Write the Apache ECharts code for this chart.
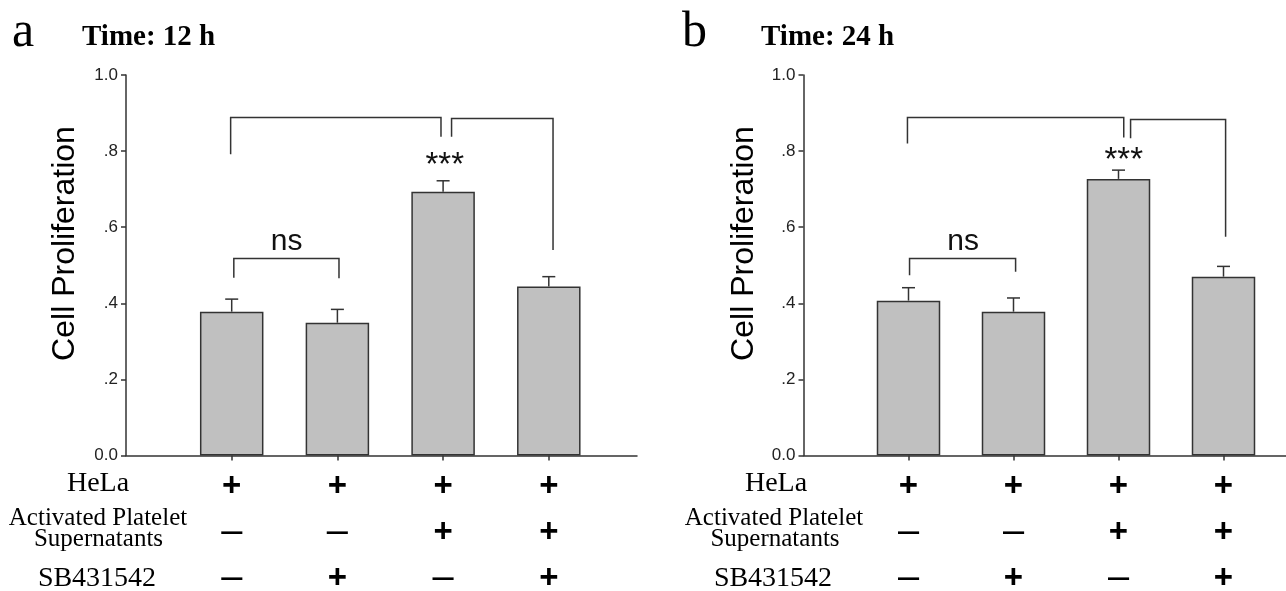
<!DOCTYPE html>
<html>
<head>
<meta charset="utf-8">
<title>Cell Proliferation</title>
<script src="https://cdn.jsdelivr.net/npm/echarts@6/dist/echarts.min.js"></script>
<style>
    html, body { margin: 0; padding: 0; background: #fff; }
    #main { width: 1286px; height: 591px; }
</style>
</head>
<body>
<div id="main"></div>
<script>
// four treatment groups, drawn at x = 1..4
var groupPos = [1, 2, 3, 4];
var helaRow = ['+', '+', '+', '+'];
var apsRow = ['–', '–', '+', '+'];
var sbRow = ['–', '+', '–', '+'];

// Time: 12 h
var mean12 = [0.378, 0.349, 0.693, 0.444];
var sem12 = [0.033, 0.035, 0.029, 0.026];
// Time: 24 h
var mean24 = [0.407, 0.378, 0.727, 0.470];
var sem24 = [0.034, 0.036, 0.023, 0.027];

// brackets: [x from, x to, top, left leg end, right leg end]
var brackets12 = [[0.99, 2.98, 0.888, 0.792, 0.838], [3.08, 4.04, 0.886, 0.838, 0.540], [1.02, 2.015, 0.518, 0.467, 0.466]];
var brackets24 = [[0.99, 3.05, 0.888, 0.820, 0.836], [3.115, 4.02, 0.883, 0.834, 0.575], [1.01, 2.02, 0.518, 0.474, 0.483]];
// significance marks: [x, y, text]
var marks12 = [[1.52, 0.562, 'ns'], [3.016, 0.760, '***']];
var marks24 = [[1.52, 0.561, 'ns'], [3.05, 0.775, '***']];

var SANS = '"Liberation Sans", Arial, sans-serif';
var SERIF = '"Liberation Serif", "Times New Roman", serif';
var INK = '#333';

var myChart = echarts.init(document.getElementById('main'));

function sign(c) {
    return c === '+' ? '{p|+}' : '{m|–}';
}

function xAxisFor(gi, max) {
    return {
        type: 'value',
        gridIndex: gi,
        min: 0,
        max: max,
        axisLine: { lineStyle: { color: INK, width: 1.5 } },
        axisTick: { show: true, customValues: groupPos, length: 5, lineStyle: { color: INK, width: 1.5 } },
        axisLabel: {
            customValues: groupPos,
            margin: 8,
            formatter: function (v) {
                var i = groupPos.indexOf(v);
                return sign(helaRow[i]) + '\n' + sign(apsRow[i]) + '\n' + sign(sbRow[i]);
            },
            rich: {
                p: { fontFamily: SANS, fontWeight: 'bold', fontSize: 33, color: '#000', lineHeight: 46 },
                m: { fontFamily: SANS, fontWeight: 'normal', fontSize: 38, color: '#000', lineHeight: 46 }
            }
        },
        splitLine: { show: false }
    };
}

function yAxisFor(gi) {
    return {
        type: 'value',
        gridIndex: gi,
        min: 0,
        max: 1,
        interval: 0.2,
        axisLine: { show: true, lineStyle: { color: INK, width: 1.5 } },
        axisTick: { show: true, length: 5, lineStyle: { color: INK, width: 1.5 } },
        axisLabel: {
            fontFamily: SANS,
            fontSize: 17,
            color: '#222',
            margin: 8,
            formatter: function (v) {
                if (v === 0) return '0.0';
                if (v === 1) return '1.0';
                return '.' + Math.round(v * 10);
            }
        },
        splitLine: { show: false }
    };
}

function panelSeries(gi, mean, sem, brackets, marks) {
    return [
        {
            type: 'bar',
            xAxisIndex: gi,
            yAxisIndex: gi,
            barWidth: 63.5,
            itemStyle: { color: '#c0c0c0', borderColor: INK, borderWidth: 1.5 },
            data: groupPos.map(function (x, k) { return [x, mean[k]]; })
        },
        {
            // error bars (mean + SEM)
            type: 'custom',
            xAxisIndex: gi,
            yAxisIndex: gi,
            z: 3,
            data: groupPos.map(function (x, k) { return [x, mean[k], sem[k]]; }),
            renderItem: function (params, api) {
                var p0 = api.coord([api.value(0), api.value(1)]);
                var p1 = api.coord([api.value(0), api.value(1) + api.value(2)]);
                var st = { stroke: INK, lineWidth: 1.5 };
                return {
                    type: 'group',
                    children: [
                        { type: 'line', shape: { x1: p0[0], y1: p0[1], x2: p1[0], y2: p1[1] }, style: st },
                        { type: 'line', shape: { x1: p1[0] - 6.5, y1: p1[1], x2: p1[0] + 6.5, y2: p1[1] }, style: st }
                    ]
                };
            }
        },
        {
            type: 'custom',
            xAxisIndex: gi,
            yAxisIndex: gi,
            z: 3,
            data: brackets,
            renderItem: function (params, api) {
                var x1 = api.value(0), x2 = api.value(1), top = api.value(2);
                var pts = [
                    api.coord([x1, api.value(3)]),
                    api.coord([x1, top]),
                    api.coord([x2, top]),
                    api.coord([x2, api.value(4)])
                ];
                return { type: 'polyline', shape: { points: pts }, style: { stroke: INK, lineWidth: 1.5, fill: null } };
            }
        },
        {
            type: 'custom',
            xAxisIndex: gi,
            yAxisIndex: gi,
            z: 3,
            data: marks,
            renderItem: function (params, api) {
                var m = marks[params.dataIndex];
                var p = api.coord([m[0], m[1]]);
                return {
                    type: 'text',
                    x: p[0],
                    y: p[1],
                    style: {
                        text: m[2],
                        fill: '#111',
                        fontFamily: SANS,
                        fontSize: m[2] === 'ns' ? 30 : 33,
                        align: 'center',
                        verticalAlign: 'middle'
                    }
                };
            }
        }
    ];
}

function txt(x, y, s, size, family, extra) {
    var el = {
        type: 'text',
        x: x,
        y: y,
        silent: true,
        style: { text: s, fill: '#000', fontSize: size, fontFamily: family, align: 'center', verticalAlign: 'middle' }
    };
    if (extra) {
        for (var k in extra) {
            if (k === 'style') {
                for (var j in extra.style) el.style[j] = extra.style[j];
            } else {
                el[k] = extra[k];
            }
        }
    }
    return el;
}

var graphics = [
    txt(12, 33, 'a', 50, SERIF, { style: { align: 'left' } }),
    txt(682, 33, 'b', 50, SERIF, { style: { align: 'left' } }),
    txt(82, 38, 'Time: 12 h', 29, SERIF, { style: { align: 'left', fontWeight: 'bold' } }),
    txt(761, 38, 'Time: 24 h', 29, SERIF, { style: { align: 'left', fontWeight: 'bold' } }),
    txt(65, 243.5, 'Cell Proliferation', 32, SANS, { rotation: Math.PI / 2 }),
    txt(744, 243.5, 'Cell Proliferation', 32, SANS, { rotation: Math.PI / 2 }),
    txt(98, 483.5, 'HeLa', 28, SERIF),
    txt(98, 518.8, 'Activated Platelet', 25, SERIF),
    txt(98.5, 539.3, 'Supernatants', 25, SERIF),
    txt(97, 578.5, 'SB431542', 28, SERIF),
    txt(776, 483.5, 'HeLa', 28, SERIF),
    txt(774, 518.8, 'Activated Platelet', 25, SERIF),
    txt(775, 539.3, 'Supernatants', 25, SERIF),
    txt(773, 578.5, 'SB431542', 28, SERIF)
];

var option = {
    animation: false,
    backgroundColor: '#fff',
    grid: [
        { left: 126, top: 75, width: 511, height: 380.5, outerBoundsMode: 'none' },
        { left: 803.5, top: 75, width: 482.5, height: 380.5, outerBoundsMode: 'none' }
    ],
    xAxis: [xAxisFor(0, 511 / 105.7), xAxisFor(1, 482.5 / 105)],
    yAxis: [yAxisFor(0), yAxisFor(1)],
    graphic: graphics,
    series: panelSeries(0, mean12, sem12, brackets12, marks12)
        .concat(panelSeries(1, mean24, sem24, brackets24, marks24))
};
myChart.setOption(option);
</script>
</body>
</html>
